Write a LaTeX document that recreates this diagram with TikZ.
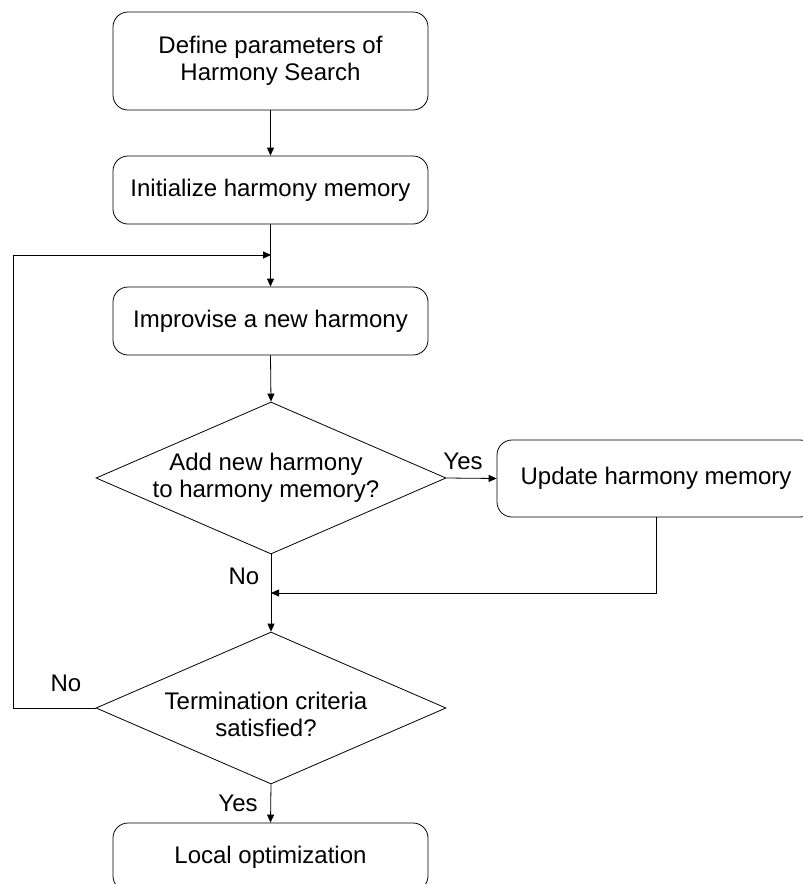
\documentclass[tikz,border=0pt]{standalone}
\usepackage{fontspec}
\setmainfont{Liberation Sans}
\usetikzlibrary{shapes.geometric,arrows.meta}
\begin{document}
\begin{tikzpicture}[x=1pt,y=-1pt,
  every node/.style={font=\fontsize{24}{27}\selectfont},
  box/.style={draw, rounded corners=15pt, line width=0.8pt, minimum width=315pt, inner sep=0pt, align=center},
  dia/.style={draw, diamond, line width=0.8pt, minimum width=350pt, minimum height=152pt, inner sep=0pt},
  conn/.style={line width=0.8pt},
  arr/.style={conn, -{Triangle[length=8pt,width=7pt]}}]
\useasboundingbox (0,0) rectangle (803,884);
\node[box, minimum height=98pt] (b1) at (270.5,61) {Define parameters of\\Harmony Search};
\node[box, minimum height=68pt] (b2) at (270.5,190) {Initialize harmony memory};
\node[box, minimum height=68pt] (b3) at (270.5,321) {Improvise a new harmony};
\node[dia] (d1) at (271,478) {};
\node[align=center] (t1) at (266,478) {Add new harmony\\to harmony memory?};
\node[box, minimum width=318pt, minimum height=77pt] (up) at (656,478.5) {Update harmony memory};
\node[dia] (d2) at (271,708) {};
\node[align=center] (t2) at (266,714) {Termination criteria\\satisfied?};
\node[box, minimum height=68pt] (b4) at (270.5,857) {Local optimization};
\coordinate (j1) at (271,255);
\coordinate (j2) at (271,593);
\coordinate (lp) at (13,708);
\draw[arr] (b1.south) -- (b2.north);
\draw[arr] (b2.south) -- (b3.north);
\draw[arr] (b3.south) -- (d1.north);
\draw[arr] (d1.east) -- (up.west);
\draw[arr] (d1.south) -- (d2.north);
\draw[arr] (up.south) |- (j2);
\draw[arr] (d2.west) -- (lp) |- (j1);
\draw[arr] (d2.south) -- (b4.north);
\node (yes1) at (463,461) {Yes};
\node (no1) at (244,576) {No};
\node (no2) at (66,683) {No};
\node (yes2) at (238,803) {Yes};
\end{tikzpicture}
\end{document}
